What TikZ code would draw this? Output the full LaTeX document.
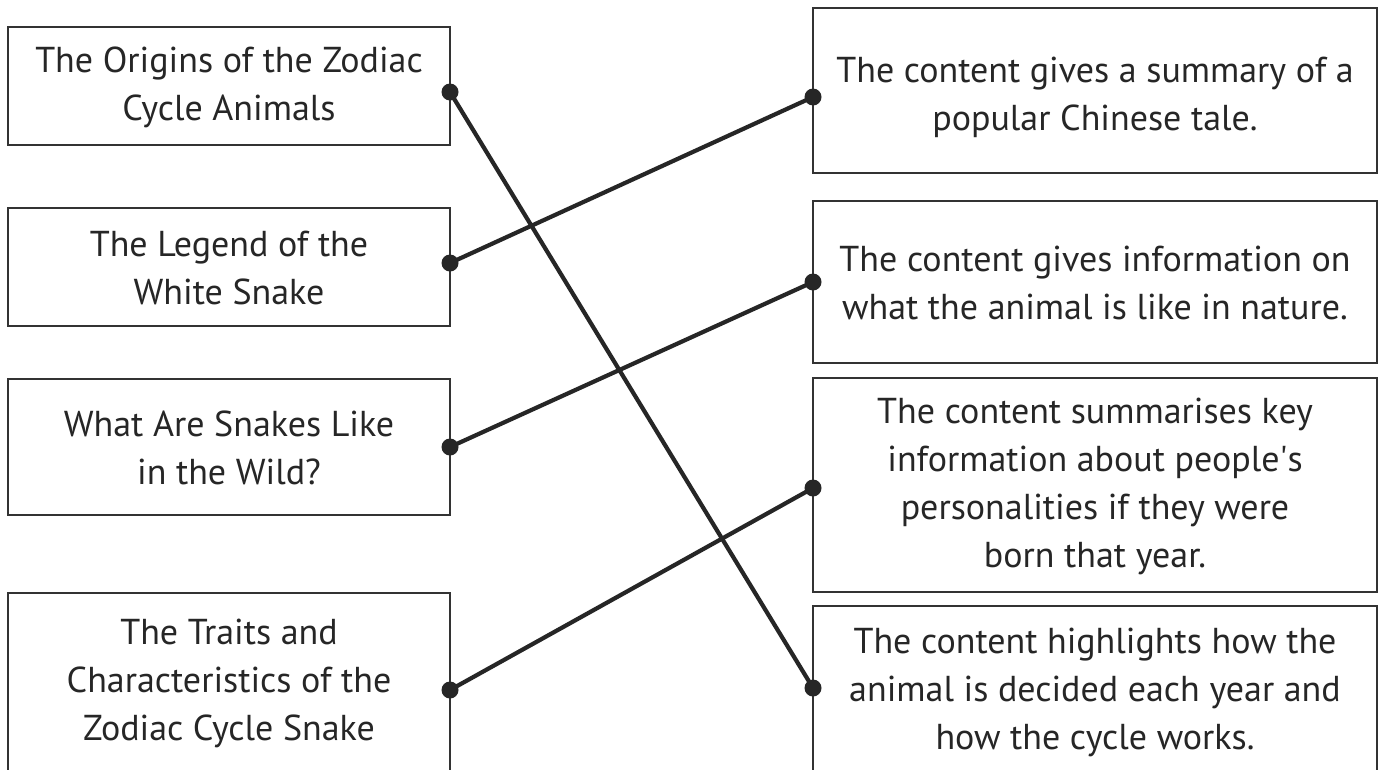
\documentclass[tikz,border=0pt]{standalone}
\usepackage{fontspec}
\setmainfont{PT Sans}
\definecolor{ink}{HTML}{262626}
\definecolor{edge}{HTML}{333333}
\begin{document}
\begin{tikzpicture}[x=1pt,y=-1pt,
  box/.style={draw=edge,line width=2.6pt,inner sep=0pt,fill=none},
  lbox/.style={box,minimum width=442pt},
  rbox/.style={box,minimum width=564pt},
  txt/.style={text=ink,align=center,inner sep=0pt,font=\fontsize{36}{48}\selectfont},
  dot/.style={circle,fill=ink,inner sep=0pt,minimum size=17pt},
  link/.style={draw=ink,line width=4.2pt}]
\useasboundingbox (0,0) rectangle (1384,769);
\clip (0,0) rectangle (1384,769);
\fill[white] (0,0) rectangle (1384,769);
% left boxes
\node[lbox,minimum height=118pt] (L1) at (229,86) {};
\node[lbox,minimum height=118pt] (L2) at (229,267) {};
\node[lbox,minimum height=136pt] (L3) at (229,447) {};
\node[lbox,minimum height=182pt] (L4) at (229,684) {};
% right boxes
\node[rbox,minimum height=165pt] (R1) at (1095,90.5) {};
\node[rbox,minimum height=162pt] (R2) at (1095,282) {};
\node[rbox,minimum height=214pt] (R3) at (1095,485) {};
\node[rbox,minimum height=172pt] (R4) at (1095,692) {};
% texts
\node[txt] (tL1) at (229,87) {The Origins of the Zodiac\\Cycle Animals};
\node[txt] (tL2) at (229,268) {The Legend of the\\White Snake};
\node[txt] (tL3) at (229,448) {What Are Snakes Like\\in the Wild?};
\node[txt] (tL4) at (229,683) {The Traits and\\Characteristics of the\\Zodiac Cycle Snake};
\node[txt] (tR1) at (1095,97) {The content gives a summary of a\\popular Chinese tale.};
\node[txt] (tR2) at (1095,283) {The content gives information on\\what the animal is like in nature.};
\node[txt] (tR3) at (1095,486) {The content summarises key\\information about people\textquotesingle s\\personalities if they were\\born that year.};
\node[txt] (tR4) at (1095,692) {The content highlights how the\\animal is decided each year and\\how the cycle works.};
% connector ends
\coordinate (a1) at (450,92);
\coordinate (a2) at (450,263);
\coordinate (a3) at (450,447);
\coordinate (a4) at (450,690);
\coordinate (b1) at (813,97);
\coordinate (b2) at (813,282);
\coordinate (b3) at (813,488);
\coordinate (b4) at (813,688);
\draw[link] (a1) -- (b4);
\draw[link] (a2) -- (b1);
\draw[link] (a3) -- (b2);
\draw[link] (a4) -- (b3);
\foreach \p in {a1,a2,a3,a4,b1,b2,b3,b4} \node[dot] (d\p) at (\p) {};
\end{tikzpicture}
\end{document}
